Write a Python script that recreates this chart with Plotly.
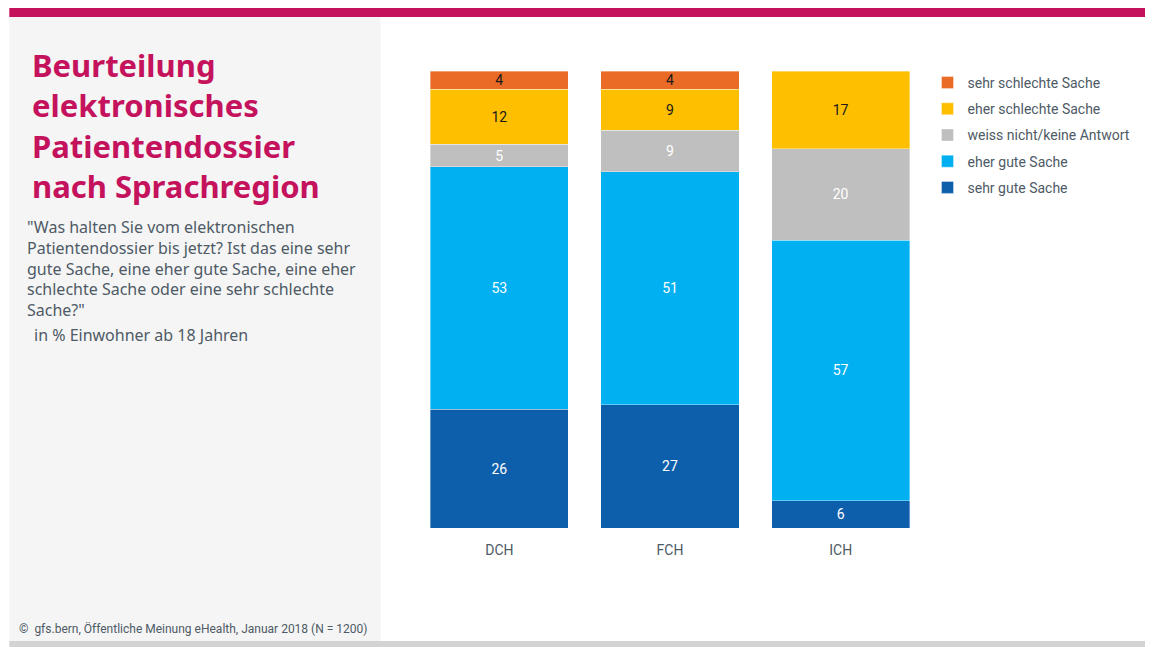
import plotly.graph_objects as go

regions = ["DCH", "FCH", "ICH"]
sehr_gute = [26, 27, 6]
eher_gute = [53, 51, 57]
weiss_nicht = [5, 9, 20]
eher_schlechte = [12, 9, 17]
sehr_schlechte = [4, 4, None]

series = [
    ("sehr gute Sache", sehr_gute, "#0e5fab", "#ffffff"),
    ("eher gute Sache", eher_gute, "#00b0f0", "#ffffff"),
    ("weiss nicht/keine Antwort", weiss_nicht, "#bfbfbf", "#ffffff"),
    ("eher schlechte Sache", eher_schlechte, "#fdbf00", "#1a1a1a"),
    ("sehr schlechte Sache", sehr_schlechte, "#e96b25", "#1a1a1a"),
]

W, H = 1153, 647
OFF = 8  # page body offset
# plot area in screen pixels
SL, SR, ST, SB = 413.5, 926.5, 71, 528
PW, PH = SR - SL, SB - ST
L, T = SL - OFF, ST - OFF
R, B = W - (SR - OFF), H - (SB - OFF)


def px(x):
    return (x - SL) / PW


def py(y):
    return (SB - y) / PH


FONT_C = "Roboto, Liberation Sans Narrow, sans-serif"
TXT = "#4e5a65"

fig = go.Figure()
n = len(series)
for i, (name, vals, color, tcol) in enumerate(series):
    fig.add_trace(go.Bar(
        x=regions, y=vals, name=name, legendgroup=name, legendrank=1000 + (n - i),
        marker=dict(color=color, line=dict(color="rgba(255,255,255,0.6)", width=0.6)),
        text=[("" if v is None else str(v)) for v in vals],
        textposition="inside", insidetextanchor="middle", textangle=0, constraintext="none",
        textfont=dict(color=tcol, size=14, family=FONT_C),
        hoverinfo="skip",
    ))

shapes = [
    dict(type="rect", xref="paper", yref="paper", x0=px(8), x1=px(W + 20), y0=py(17), y1=py(6),
         fillcolor="#c4125d", line=dict(width=0), layer="below"),
    dict(type="rect", xref="paper", yref="paper", x0=px(8), x1=px(380), y0=py(641), y1=py(17),
         fillcolor="#f5f5f5", line=dict(width=0), layer="below"),
    dict(type="rect", xref="paper", yref="paper", x0=px(8), x1=px(W + 20), y0=py(H + 20), y1=py(641),
         fillcolor="#d3d3d3", line=dict(width=0), layer="below"),
]

title_txt = "Beurteilung<br>elektronisches<br>Patientendossier<br>nach Sprachregion"
sub_txt = ('"Was halten Sie vom elektronischen<br>Patientendossier bis jetzt? Ist das eine sehr<br>'
           'gute Sache, eine eher gute Sache, eine eher<br>schlechte Sache oder eine sehr schlechte<br>Sache?"')

annotations = [
    dict(text="<b>" + title_txt + "</b>", xref="paper", yref="paper", x=px(29), y=py(42),
         xanchor="left", yanchor="top", align="left", showarrow=False,
         font=dict(family="Noto Sans, sans-serif", size=31, color="#c4125d")),
    dict(text=sub_txt, xref="paper", yref="paper", x=px(24), y=py(214),
         xanchor="left", yanchor="top", align="left", showarrow=False,
         font=dict(family="Noto Sans, sans-serif", size=16, color=TXT)),
    dict(text="in % Einwohner ab 18 Jahren", xref="paper", yref="paper", x=px(31), y=py(322),
         xanchor="left", yanchor="top", align="left", showarrow=False,
         font=dict(family="Noto Sans, sans-serif", size=16, color=TXT)),
    dict(text="©  gfs.bern, Öffentliche Meinung eHealth, Januar 2018 (N = 1200)", xref="paper", yref="paper",
         x=px(16), y=py(628), xanchor="left", yanchor="middle", align="left", showarrow=False,
         font=dict(family=FONT_C, size=12, color=TXT)),
]

fig.update_layout(
    width=W, height=H,
    margin=dict(l=L, r=R, t=T, b=B, autoexpand=False),
    barmode="stack", bargap=0.19,
    plot_bgcolor="white", paper_bgcolor="white",
    showlegend=True,
    legend=dict(traceorder="grouped", x=px(928), y=py(67), xanchor="left", yanchor="top",
                font=dict(family=FONT_C, size=14, color=TXT),
                bgcolor="rgba(0,0,0,0)", tracegroupgap=5, itemwidth=30),
    xaxis=dict(showgrid=False, zeroline=False, showline=False, ticks="outside", ticklen=9,
               tickcolor="rgba(0,0,0,0)",
               tickfont=dict(family=FONT_C, size=14, color=TXT)),
    yaxis=dict(range=[0, 100], visible=False, showgrid=False),
    shapes=shapes, annotations=annotations,
)

fig.write_html("out.html")
